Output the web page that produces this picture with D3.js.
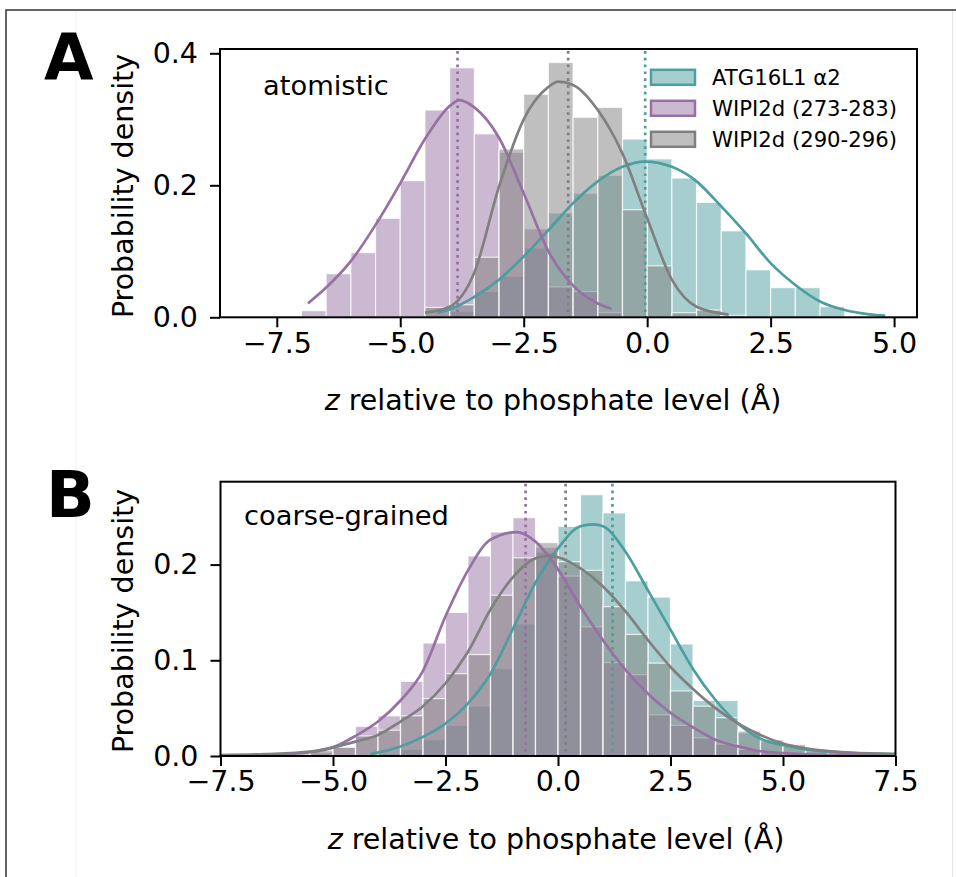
<!DOCTYPE html>
<html><head><meta charset="utf-8">
<script src="https://cdn.jsdelivr.net/npm/d3@7"></script>
<style>body{margin:0;background:#fff} svg{display:block} text{font-family:"DejaVu Sans",sans-serif;fill:#000}</style>
</head><body>
<script>
// ---------------- DATA ----------------
const seriesNames = ["ATG16L1 α2", "WIPI2d (273-283)", "WIPI2d (290-296)"];
const seriesColors = ["#4d9e9e", "#9771a3", "#808080"];
const BIN_WIDTH = 0.5;

// Panel A (atomistic)
const aXTicks = [-7.5, -5.0, -2.5, 0.0, 2.5, 5.0];
const aYTicks = [0.0, 0.2, 0.4];
const aBins = [-7.0,-6.5,-6.0,-5.5,-5.0,-4.5,-4.0,-3.5,-3.0,-2.5,-2.0,-1.5,-1.0,-0.5,0.0,0.5,1.0,1.5,2.0,2.5,3.0,3.5];
const aTeal   = [0,0,0,0,0,0.003,0.009,0.039,0.062,0.105,0.158,0.188,0.215,0.270,0.240,0.211,0.174,0.131,0.072,0.045,0.045,0.016];
const aPurple = [0.010,0.066,0.098,0.150,0.207,0.314,0.378,0.278,0.250,0.134,0.046,0.039,0.007,0,0,0,0,0,0,0,0,0];
const aGrey   = [0,0,0,0,0,0.015,0.019,0.091,0.255,0.338,0.386,0.303,0.318,0.163,0.078,0.007,0.011,0.003,0,0,0,0];
const aTealFitX   = [-4.25,-4.0,-3.5,-3.0,-2.5,-2.0,-1.5,-1.0,-0.5,-0.05,0.5,1.0,1.5,2.0,2.5,3.0,3.5,4.0,4.5,4.82];
const aTealFitY   = [0.007,0.012,0.031,0.057,0.092,0.132,0.173,0.206,0.228,0.236,0.228,0.206,0.168,0.127,0.082,0.049,0.024,0.011,0.0045,0.0025];
const aPurpleFitX = [-6.87,-6.5,-6.0,-5.5,-5.0,-4.5,-4.0,-3.8,-3.5,-3.0,-2.5,-2.0,-1.5,-1.0,-0.72];
const aPurpleFitY = [0.021,0.045,0.085,0.140,0.203,0.270,0.320,0.329,0.318,0.272,0.188,0.100,0.048,0.021,0.013];
const aGreyFitX   = [-4.5,-4.0,-3.5,-3.0,-2.5,-2.0,-1.8,-1.5,-1.0,-0.5,0.0,0.5,1.0,1.65];
const aGreyFitY   = [0.007,0.016,0.068,0.198,0.300,0.349,0.357,0.352,0.314,0.248,0.150,0.057,0.016,0.004];
const aMeans = [-0.04, -3.84, -1.60];

// Panel B (coarse-grained)
const bXTicks = [-7.5, -5.0, -2.5, 0.0, 2.5, 5.0, 7.5];
const bYTicks = [0.0, 0.1, 0.2];
const bBins = [-7.0,-6.5,-6.0,-5.5,-5.0,-4.5,-4.0,-3.5,-3.0,-2.5,-2.0,-1.5,-1.0,-0.5,0.0,0.5,1.0,1.5,2.0,2.5,3.0,3.5,4.0,4.5,5.0,5.5,6.0,6.5,7.0];
const bTeal   = [0,0,0,0,0,0,0.002,0.007,0.017,0.032,0.052,0.091,0.138,0.213,0.240,0.273,0.254,0.183,0.166,0.117,0.058,0.058,0.024,0.015,0.010,0.005,0.003,0.002,0.001];
const bPurple = [0,0,0.002,0.004,0.010,0.031,0.042,0.078,0.118,0.150,0.209,0.234,0.249,0.218,0.188,0.135,0.0975,0.085,0.043,0.032,0.019,0.0125,0.007,0.0035,0.002,0.001,0,0,0];
const bGrey   = [0.001,0.001,0.002,0.006,0.009,0.021,0.027,0.042,0.060,0.086,0.106,0.168,0.207,0.223,0.203,0.194,0.156,0.127,0.097,0.068,0.052,0.040,0.026,0.017,0.012,0.007,0.0045,0.003,0.002];
const bTealFitX   = [-4.17,-4.0,-3.5,-3.0,-2.5,-2.0,-1.5,-1.0,-0.5,0.0,0.5,0.78,1.0,1.5,2.0,2.5,3.0,3.5,4.0,4.5,5.0,5.5,6.0,6.5,7.5];
const bTealFitY   = [0.002,0.0035,0.010,0.020,0.034,0.055,0.086,0.133,0.181,0.217,0.240,0.242,0.240,0.2135,0.173,0.132,0.091,0.0585,0.034,0.018,0.0115,0.007,0.0045,0.003,0.002];
const bPurpleFitX = [-7.5,-6.5,-6.0,-5.5,-5.0,-4.5,-4.0,-3.5,-3.0,-2.5,-2.0,-1.5,-0.92,-0.5,0.0,0.5,1.0,1.5,2.0,2.5,3.0,3.5,4.0,4.5,5.0,6.0,7.5];
const bPurpleFitY = [0.0003,0.001,0.002,0.004,0.009,0.021,0.036,0.058,0.089,0.146,0.194,0.226,0.234,0.224,0.195,0.156,0.121,0.090,0.065,0.045,0.030,0.017,0.010,0.005,0.003,0.001,0.0005];
const bGreyFitX   = [-7.5,-6.5,-5.5,-5.0,-4.5,-4.0,-3.5,-3.0,-2.5,-2.0,-1.5,-1.0,-0.5,-0.17,0.0,0.5,1.0,1.5,2.0,2.5,3.0,3.5,4.0,4.5,5.0,5.5,6.0,6.5,7.5];
const bGreyFitY   = [0.001,0.002,0.0045,0.009,0.015,0.022,0.036,0.052,0.076,0.109,0.153,0.187,0.2065,0.209,0.2076,0.196,0.177,0.151,0.121,0.093,0.070,0.050,0.034,0.022,0.013,0.008,0.005,0.0035,0.002];
const bMeans = [1.21, -0.72, 0.17];

const xLabelText = " relative to phosphate level (Å)";
const yLabelText = "Probability density";

// ---------------- DRAW ----------------
const W = 956, H = 877;
const FS = 28.5;
const svg = d3.select("body").append("svg").attr("width", W).attr("height", H);

// figure frame
svg.append("path").attr("d", "M6,877 L6,10 L956,10").attr("fill", "none").attr("stroke", "#333").attr("stroke-width", 1.5);
svg.append("line").attr("x1", 76).attr("x2", 76).attr("y1", 11).attr("y2", 877).attr("stroke", "#eeeeee").attr("stroke-width", 1);
svg.append("line").attr("x1", 952.5).attr("x2", 952.5).attr("y1", 11).attr("y2", 877).attr("stroke", "#e4e4e4").attr("stroke-width", 1);

const fmt = d3.format(".1f");

function panel(p) {
  const g = svg.append("g");
  const x = d3.scaleLinear().domain(p.xDomain).range([p.left, p.right]);
  const y = d3.scaleLinear().domain(p.yDomain).range([p.bottom, p.top]);
  const clipId = "clip" + p.id;
  svg.append("clipPath").attr("id", clipId).append("rect")
    .attr("x", p.left).attr("y", p.top).attr("width", p.right - p.left).attr("height", p.bottom - p.top);
  const plot = g.append("g").attr("clip-path", `url(#${clipId})`);

  // histograms (teal, purple, grey)
  p.hists.forEach((vals, si) => {
    const data = p.bins.map((b, i) => ({ x0: b, x1: b + BIN_WIDTH, v: vals[i] })).filter(d => d.v > 0);
    plot.append("g").selectAll("rect").data(data).join("rect")
      .attr("x", d => x(d.x0)).attr("width", d => x(d.x1) - x(d.x0))
      .attr("y", d => y(d.v)).attr("height", d => y(0) - y(d.v))
      .attr("fill", seriesColors[si]).attr("fill-opacity", 0.5)
      .attr("stroke", "#fff").attr("stroke-width", 1.2).attr("stroke-opacity", 0.75);
  });

  // mean dotted lines
  p.means.forEach((m, si) => {
    plot.append("line").attr("x1", x(m)).attr("x2", x(m)).attr("y1", y(p.yDomain[1]) + 2).attr("y2", y(0))
      .attr("stroke", seriesColors[si]).attr("stroke-width", 2.7).attr("stroke-dasharray", "2.7,4.1");
  });

  // fitted curves
  const line = d3.line().x(d => x(d[0])).y(d => y(d[1])).curve(d3.curveMonotoneX);
  p.fits.forEach((f, si) => {
    plot.append("path").datum(f[0].map((v, i) => [v, f[1][i]])).attr("d", line)
      .attr("fill", "none").attr("stroke", seriesColors[si]).attr("stroke-width", 2.7);
  });

  // spines
  g.append("rect").attr("x", p.left).attr("y", p.top).attr("width", p.right - p.left).attr("height", p.bottom - p.top)
    .attr("fill", "none").attr("stroke", "#000").attr("stroke-width", 2);

  // axes
  const xa = g.append("g").attr("transform", `translate(0,${p.bottom})`)
    .call(d3.axisBottom(x).tickValues(p.xTicks).tickFormat(fmt).tickSize(10).tickPadding(5));
  const ya = g.append("g").attr("transform", `translate(${p.left},0)`)
    .call(d3.axisLeft(y).tickValues(p.yTicks).tickFormat(fmt).tickSize(10).tickPadding(12));
  [xa, ya].forEach(a => {
    a.select(".domain").remove();
    a.selectAll(".tick line").attr("stroke", "#000").attr("stroke-width", 2);
    a.selectAll(".tick text").attr("font-size", FS).attr("font-family", "DejaVu Sans").attr("fill", "#000");
  });

  // axis labels
  const xl = g.append("text").attr("x", p.xLabelX).attr("y", p.xLabelY).attr("text-anchor", "middle").attr("font-size", FS);
  xl.append("tspan").attr("font-style", "italic").text("z");
  xl.append("tspan").text(xLabelText);
  g.append("text").attr("transform", `translate(${p.yLabelX},${p.yLabelY}) rotate(-90)`)
    .attr("text-anchor", "middle").attr("font-size", FS).text(yLabelText);

  // annotation
  g.append("text").attr("x", p.noteX).attr("y", p.noteY).attr("font-size", 27.3).text(p.note);
  // panel letter
  g.append("text").attr("x", p.letterX).attr("y", p.letterY).attr("font-size", 64).attr("font-weight", "bold").text(p.letter);
  return { g, x, y };
}

const pa = panel({
  id: "A", left: 220, right: 917, top: 49, bottom: 317.3,
  xDomain: [-8.65, 5.464], yDomain: [0, 0.4065],
  xTicks: aXTicks, yTicks: aYTicks, bins: aBins,
  hists: [aTeal, aPurple, aGrey],
  fits: [[aTealFitX, aTealFitY], [aPurpleFitX, aPurpleFitY], [aGreyFitX, aGreyFitY]],
  means: aMeans,
  xLabelX: 553, xLabelY: 410, yLabelX: 133, yLabelY: 186,
  note: "atomistic", noteX: 263, noteY: 95,
  letter: "A", letterX: 44, letterY: 80
});

panel({
  id: "B", left: 220.5, right: 895.5, top: 481.7, bottom: 756,
  xDomain: [-7.5, 7.5], yDomain: [0, 0.2866],
  xTicks: bXTicks, yTicks: bYTicks, bins: bBins,
  hists: [bTeal, bPurple, bGrey],
  fits: [[bTealFitX, bTealFitY], [bPurpleFitX, bPurpleFitY], [bGreyFitX, bGreyFitY]],
  means: bMeans,
  xLabelX: 556, xLabelY: 849, yLabelX: 133, yLabelY: 621,
  note: "coarse-grained", noteX: 244, noteY: 525,
  letter: "B", letterX: 46, letterY: 517
});

// legend (panel A)
const leg = pa.g.append("g");
seriesNames.forEach((name, i) => {
  const cy = 77.3 + i * 31;
  leg.append("rect").attr("x", 651).attr("y", cy - 7.5).attr("width", 44).attr("height", 15)
    .attr("fill", seriesColors[i]).attr("fill-opacity", 0.5)
    .attr("stroke", seriesColors[i]).attr("stroke-width", 2.5);
  leg.append("text").attr("x", 712).attr("y", cy).attr("dy", "0.36em").attr("font-size", 21.2).text(name);
});
</script>
</body></html>
